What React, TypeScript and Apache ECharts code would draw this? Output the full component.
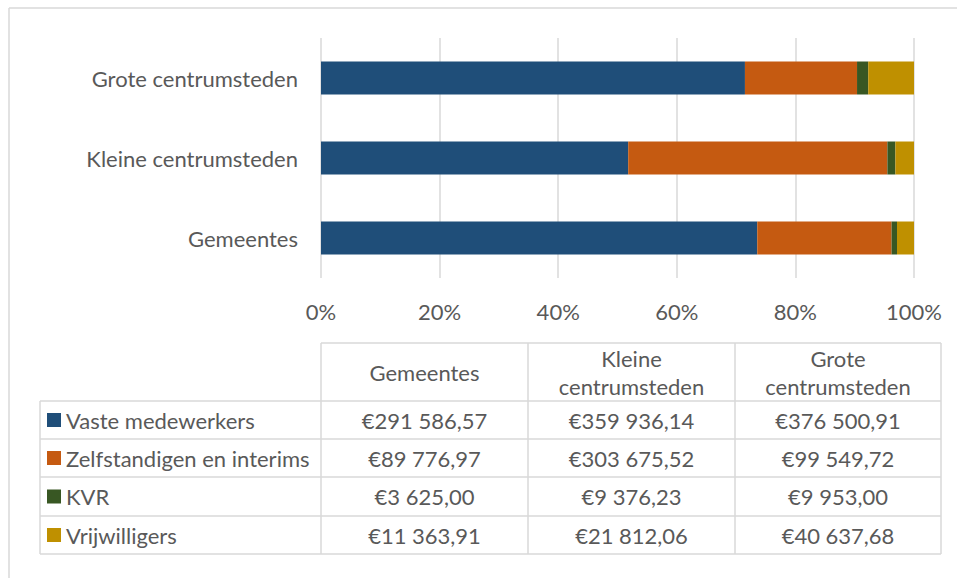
import React, { useEffect, useRef } from "react";
import * as echarts from "echarts";

const categories = ["Gemeentes", "Kleine centrumsteden", "Grote centrumsteden"];
const headerLabels = [["Gemeentes"], ["Kleine", "centrumsteden"], ["Grote", "centrumsteden"]];
const seriesNames = ["Vaste medewerkers", "Zelfstandigen en interims", "KVR", "Vrijwilligers"];
const vaste = [291586.57, 359936.14, 376500.91];
const zelfstandigen = [89776.97, 303675.52, 99549.72];
const kvr = [3625.0, 9376.23, 9953.0];
const vrijwilligers = [11363.91, 21812.06, 40637.68];
const colors = ["#1F4E79", "#C55A11", "#385723", "#BF9000"];

const FONT_FAMILY = "Lato, 'Noto Sans', sans-serif";
const FS = 22;
const TEXT = "#595959";
const LINE = "#D9D9D9";

function fmtEuro(v: number): string {
  const [i, d] = v.toFixed(2).split(".");
  const ig = i.replace(/\B(?=(\d{3})+(?!\d))/g, " ");
  return "€" + ig + "," + d;
}

export default function App() {
  const ref = useRef<HTMLDivElement>(null);
  useEffect(() => {
    if (!ref.current) return;
    const chart = echarts.init(ref.current, undefined, { renderer: "svg" });
    const allSeries = [vaste, zelfstandigen, kvr, vrijwilligers];
    const totals = categories.map((_, c) => allSeries.reduce((s, arr) => s + arr[c], 0));
    const series = allSeries.map((arr, k) => ({
      name: seriesNames[k],
      type: "bar",
      stack: "total",
      barWidth: 33,
      itemStyle: { color: colors[k] },
      data: arr.map((v, c) => (v / totals[c]) * 100),
    }));

    // table geometry
    const colX = [40, 321, 528, 735, 941];
    const rowY = [343, 401, 439, 477, 516, 554];
    const font = `${FS}px ${FONT_FAMILY}`;
    const elements: any[] = [];
    const lineStyle = { stroke: LINE, lineWidth: 1.5 };
    // outer border
    elements.push({ type: "line", shape: { x1: 9, y1: 8, x2: 957, y2: 8 }, style: lineStyle, silent: true });
    elements.push({ type: "line", shape: { x1: 9, y1: 8, x2: 9, y2: 578 }, style: lineStyle, silent: true });
    // horizontal table lines
    elements.push({ type: "line", shape: { x1: colX[1], y1: rowY[0], x2: colX[4], y2: rowY[0] }, style: lineStyle });
    for (let r = 1; r < rowY.length; r++) {
      elements.push({ type: "line", shape: { x1: colX[0], y1: rowY[r], x2: colX[4], y2: rowY[r] }, style: lineStyle });
    }
    // vertical lines
    elements.push({ type: "line", shape: { x1: colX[0], y1: rowY[1], x2: colX[0], y2: rowY[5] }, style: lineStyle });
    for (let c = 1; c < colX.length; c++) {
      elements.push({ type: "line", shape: { x1: colX[c], y1: rowY[0], x2: colX[c], y2: rowY[5] }, style: lineStyle });
    }
    // header
    headerLabels.forEach((lines, c) => {
      const cx = (colX[c + 1] + colX[c + 2]) / 2;
      const cy = (rowY[0] + rowY[1]) / 2;
      const lh = 28;
      lines.forEach((t, i) => {
        const y = cy + (i - (lines.length - 1) / 2) * lh;
        elements.push({
          type: "text",
          x: cx,
          y,
          style: { text: t, font, fill: TEXT, align: "center", verticalAlign: "middle" },
        });
      });
    });
    // rows
    allSeries.forEach((arr, k) => {
      const cy = (rowY[k + 1] + rowY[k + 2]) / 2;
      elements.push({
        type: "rect",
        shape: { x: 47, y: cy - 7, width: 14, height: 14 },
        style: { fill: colors[k] },
      });
      elements.push({
        type: "text",
        x: 66,
        y: cy,
        style: { text: seriesNames[k], font, fill: TEXT, align: "left", verticalAlign: "middle" },
      });
      arr.forEach((v, c) => {
        const cx = (colX[c + 1] + colX[c + 2]) / 2;
        elements.push({
          type: "text",
          x: cx,
          y: cy,
          style: { text: fmtEuro(v), font, fill: TEXT, align: "center", verticalAlign: "middle" },
        });
      });
    });

    chart.setOption({
      animation: false,
      backgroundColor: "#ffffff",
      grid: { left: 321, right: 43, top: 38, bottom: 300, containLabel: false },
      xAxis: {
        type: "value",
        min: 0,
        max: 100,
        interval: 20,
        axisLine: { show: false },
        axisTick: { show: false },
        splitLine: { show: true, lineStyle: { color: LINE, width: 1.5 } },
        axisLabel: {
          formatter: "{value}%",
          color: TEXT,
          fontFamily: FONT_FAMILY,
          fontSize: FS,
          margin: 22,
        },
      },
      yAxis: {
        type: "category",
        data: categories,
        axisLine: { show: false },
        axisTick: { show: false },
        axisLabel: {
          color: TEXT,
          fontFamily: FONT_FAMILY,
          fontSize: FS,
          margin: 23,
        },
      },
      series,
      graphic: { elements },
    });
    return () => chart.dispose();
  }, []);
  return (
    <div
      ref={ref}
      style={{ position: "absolute", left: 0, top: 0, width: 957, height: 578 }}
    />
  );
}
